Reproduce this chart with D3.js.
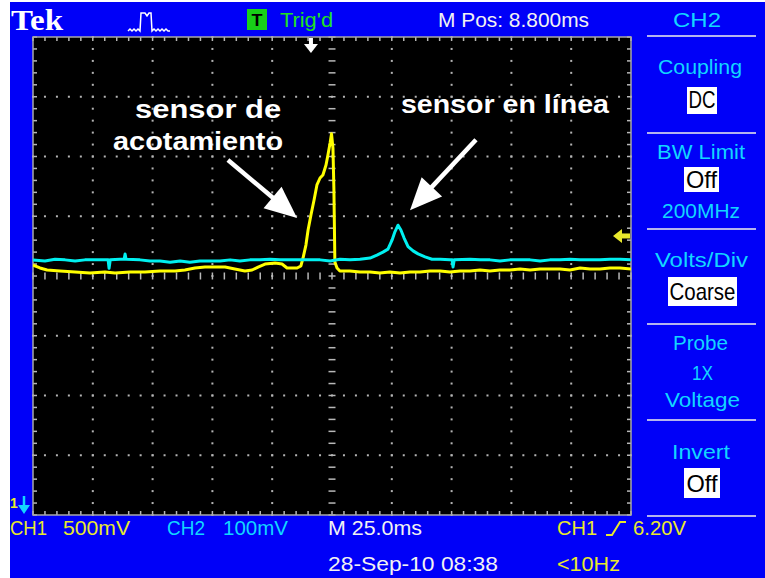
<!DOCTYPE html>
<html><head><meta charset="utf-8">
<script src="https://cdn.jsdelivr.net/npm/d3@7"></script>
<style>html,body{margin:0;padding:0;background:#fff;}svg{display:block}</style>
</head><body><svg id="c" width="765" height="578"></svg>
<script>
// ---- data ----
const msPerDiv = 25.0;            // M 25.0ms
const mPos = 8.8;                 // M Pos: 8.800ms
const ch1mVPerDiv = 500;          // CH1 500mV
const ch2mVPerDiv = 100;          // CH2 100mV
const trigLevelDiv = 0.67;        // trigger level marker (divisions from centre)
// CH1 (yellow) – time in ms, value in mV relative to screen centre
const ch1Time = [0,2.9,5.9,11.3,17.6,23.8,30.1,34.3,40.6,46.8,53.1,59.4,63.5,67.7,71.9,76.1,80.3,84.4,88.6,91.6,94.1,97,101.2,104.1,106.2,110.4,112,112.9,114.1,115,116.2,117.5,118.7,120,121.2,122.5,123.3,124.2,124.8,125.4,125.8,126.2,127.1,128.3,132.5,136.7,140.9,145,149.2,153.4,157.6,161.8,166,170.2,174.3,178.5,182.7,186.9,191,195.2,199.4,203.6,207.8,212,216.1,220.3,224.5,228.7,232.9,237,241.2,245.4,250];
const ch1mV   = [92,67,50,42,33,25,33,25,33,33,42,42,50,67,75,75,75,59,42,50,75,100,109,100,67,67,84,151,259,385,511,636,762,820,845,929,1013,1113,1190,1070,720,117,67,42,42,33,33,25,33,25,33,33,42,42,33,42,42,50,42,50,50,59,50,59,59,59,50,67,59,59,67,67,59];
// CH2 (cyan) – time in ms, value in mV relative to screen centre
const ch2Time = [0,5,9.2,13.4,17.6,21.7,25.9,30.1,31.4,31.8,32.3,36.4,38.1,38.5,38.9,44.7,48.9,53.1,57.3,61.5,65.6,69.8,74,78.2,82.4,86.5,90.7,94.9,99.1,103.3,107.4,111.6,115.8,120,124.2,128.3,132.5,136.7,140.9,143.8,146.3,148.4,150.1,151.3,152.6,153.8,155.1,156.8,158.9,161,163.9,166.8,170.2,174.3,175.2,175.6,176.1,182.7,186.9,191,195.2,199.4,203.6,207.8,212,216.1,220.3,224.5,228.7,232.9,237,241.2,245.4,250];
const ch2mV   = [27,25,28,27,25,27,27,27,27,13,27,28,28,37,28,27,25,25,23,25,23,25,25,25,27,25,27,27,28,27,27,27,27,27,25,28,27,28,30,35,40,45,60,74,85,77,64,49,42,37,32,28,28,27,27,15,27,28,27,27,25,27,27,27,25,27,27,28,27,27,27,28,28,27];
// annotations (time ms, divisions)
const annoLabels = ["sensor de","acotamiento","sensor en línea"];
const annoPos = [[73.2,2.64,146],[69,2.11,170],[197.3,2.72,208]];
const arrowFrom = [[81.5,1.94],[185.2,2.28]];
const arrowTo = [[110.4,0.97],[157.6,1.10]];
// right menu
const menuLabels = ["Coupling","BW Limit","200MHz","Volts/Div","Probe","1X","Voltage","Invert"];
const menuBoxed = ["DC","Off","Coarse","Off"];

// ---- drawing ----
const BLUE="#0000f8", CYAN="#12d6ff", YEL="#e9e92c", WHITE="#f2f2f2";
const svg=d3.select('#c');
svg.append('rect').attr('width',765).attr('height',578).attr('fill','#fff');
svg.append('rect').attr('x',10).attr('y',2).attr('width',755).attr('height',576).attr('fill',BLUE);
const P={l:33,r:631,t:37,b:515};
const x=d3.scaleLinear().domain([0,10*msPerDiv]).range([P.l,P.r]);
const yd=d3.scaleLinear().domain([-4,4]).range([P.b,P.t]);
const xd=d3.scaleLinear().domain([0,10]).range([P.l,P.r]);
svg.append('rect').attr('x',P.l).attr('y',P.t).attr('width',P.r-P.l).attr('height',P.b-P.t).attr('fill','#000');

const g=svg.append('g');
const minX=d3.range(0,50.5,1).map(i=>i/5), minY=d3.range(-20,20.5,1).map(i=>i/5);
const dots=[];
[1,2,3,4,6,7,8,9].forEach(v=>minY.forEach(m=>dots.push([xd(v),yd(m)])));
[-3,-2,-1,1,2,3].forEach(h=>minX.forEach(m=>dots.push([xd(m),yd(h)])));
g.selectAll('rect.d').data(dots).join('rect').attr('x',d=>d[0]-1).attr('y',d=>d[1]-1).attr('width',2).attr('height',2).attr('fill','#b4b4b4');
const tk=[];
minX.forEach(m=>{tk.push([xd(m),yd(0)-3.5,xd(m),yd(0)+3.5]);tk.push([xd(m),P.t,xd(m),P.t+4]);tk.push([xd(m),P.b-4,xd(m),P.b]);});
minY.forEach(m=>{tk.push([xd(5)-3.5,yd(m),xd(5)+3.5,yd(m)]);tk.push([P.l,yd(m),P.l+4,yd(m)]);tk.push([P.r-4,yd(m),P.r,yd(m)]);});
g.selectAll('line.t').data(tk).join('line').attr('x1',d=>d[0]).attr('y1',d=>d[1]).attr('x2',d=>d[2]).attr('y2',d=>d[3]).attr('stroke','#b8b8b8').attr('stroke-width',1.5);
svg.append('rect').attr('x',P.l).attr('y',P.t).attr('width',P.r-P.l).attr('height',P.b-P.t).attr('fill','none').attr('stroke','#a8a8a8').attr('stroke-width',1.5);

svg.append('clipPath').attr('id','cp').append('rect').attr('x',P.l).attr('y',P.t).attr('width',P.r-P.l).attr('height',P.b-P.t);
const ln=d3.line().x(d=>x(d[0])).y(d=>yd(d[1]));
svg.append('path').attr('clip-path','url(#cp)').attr('d',ln(ch1Time.map((t,i)=>[t,ch1mV[i]/ch1mVPerDiv]))).attr('fill','none').attr('stroke','#ffff00').attr('stroke-width',3).attr('stroke-linejoin','round');
svg.append('path').attr('clip-path','url(#cp)').attr('d',ln(ch2Time.map((t,i)=>[t,ch2mV[i]/ch2mVPerDiv]))).attr('fill','none').attr('stroke','#00f0f0').attr('stroke-width',3).attr('stroke-linejoin','round');

// markers
const tx=x(5*msPerDiv-mPos);
svg.append('rect').attr('x',tx-2).attr('y',38).attr('width',4).attr('height',7).attr('fill','#fff');
svg.append('polygon').attr('points',`${tx-7},44 ${tx+7},44 ${tx},53`).attr('fill','#fff');
const ty=yd(trigLevelDiv);
svg.append('polygon').attr('points',`${P.r-18},${ty} ${P.r-9},${ty-7} ${P.r-9},${ty+7}`).attr('fill',YEL);
svg.append('rect').attr('x',P.r-10).attr('y',ty-2.5).attr('width',9).attr('height',5).attr('fill',YEL);
svg.append('text').attr('x',10).attr('y',508).attr('font-family','Liberation Sans').attr('font-size',14).attr('font-weight','bold').attr('fill',YEL).text('1');
svg.append('line').attr('x1',24).attr('y1',496).attr('x2',24).attr('y2',508).attr('stroke',CYAN).attr('stroke-width',2.5);
svg.append('polygon').attr('points','18,505 30,505 24,514').attr('fill',CYAN);

function T(s,xx,yy,w,size,fill,anchor,weight,family){
  const t=svg.append('text').attr('x',xx).attr('y',yy).attr('font-family',family||'Liberation Sans').attr('font-size',size).attr('fill',fill).attr('text-anchor',anchor||'start').attr('font-weight',weight||'normal').text(s);
  if(w) t.attr('textLength',w).attr('lengthAdjust','spacingAndGlyphs');
  return t;
}
// header
T('Tek',11,30,52,30,'#fff','start','bold','Liberation Serif');
svg.append('path').attr('d','M128,31 L130,29 L132,31 L134,29 L136,31 L138,29 L140,31 L141,13 L145,13 L147,16 L149,13 L151,13 L152,31 L154,29 L156,31 L158,29 L160,31 L162,29 L164,31 L166,29 L168,31 L170,31').attr('fill','none').attr('stroke','#fff').attr('stroke-width',1.5);
svg.append('rect').attr('x',247).attr('y',9).attr('width',20).attr('height',21).attr('fill','#18d018');
T('T',257,26,11,17,'#000','middle','bold');
T("Trig'd",280,27,53,21,'#20e020');
T('M Pos: 8.800ms',438,27,151,21,WHITE);
T('CH2',673,27,48,21,CYAN);
// menu
[36,133,229,324,420,516].forEach(yy=>svg.append('line').attr('x1',647).attr('x2',756).attr('y1',yy).attr('y2',yy).attr('stroke','#b4b4ee').attr('stroke-width',2));
const mpos=[[700,74,84],[701,159,88],[701,218,78],[701.5,267,93],[700.5,350,55],[702.5,380,21],[702.5,407,75],[701,459,58]];
menuLabels.forEach((s,i)=>T(s,mpos[i][0],mpos[i][1],mpos[i][2],21,CYAN,'middle'));
const bpos=[[687,87,30,27,702,108,27],[684,167,35,25,701.5,188,31],[668,277,69,29,702.5,300,66],[684,468,36,30,702,492,31]];
menuBoxed.forEach((s,i)=>{const b=bpos[i];svg.append('rect').attr('x',b[0]).attr('y',b[1]).attr('width',b[2]).attr('height',b[3]).attr('fill','#fff');T(s,b[4],b[5],b[6],24,'#000','middle');});
// bottom status
T('CH1',10,535,37,21,YEL);T('500mV',63,535,67,21,YEL);
T('CH2',167,535,38,21,CYAN);T('100mV',223,535,65,21,CYAN);
T('M 25.0ms',328,535,94,21,WHITE);
T('CH1',557,535,40,21,YEL);
svg.append('path').attr('d','M606,535 L612,535 L620,522 L626,522').attr('fill','none').attr('stroke',YEL).attr('stroke-width',2);
T('6.20V',633,535,53,21,YEL);
T('28-Sep-10 08:38',328,571,170,21,WHITE);
T('<10Hz',557,571,63,21,YEL);
// annotations
annoLabels.forEach((s,i)=>T(s,x(annoPos[i][0]),yd(annoPos[i][1]),annoPos[i][2],26,'#fff','middle','bold'));
arrowFrom.forEach((f,i)=>{
  const x0=x(f[0]),y0=yd(f[1]),x1=x(arrowTo[i][0]),y1=yd(arrowTo[i][1]);
  const dx=x1-x0,dy=y1-y0,L=Math.hypot(dx,dy),ux=dx/L,uy=dy/L,hl=32,hw=14;
  const bx=x1-ux*hl,by=y1-uy*hl;
  svg.append('line').attr('x1',x0).attr('y1',y0).attr('x2',bx+ux*2).attr('y2',by+uy*2).attr('stroke','#fff').attr('stroke-width',4.5);
  svg.append('polygon').attr('points',`${x1},${y1} ${bx-uy*hw},${by+ux*hw} ${bx+uy*hw},${by-ux*hw}`).attr('fill','#fff');
});
</script></body></html>
